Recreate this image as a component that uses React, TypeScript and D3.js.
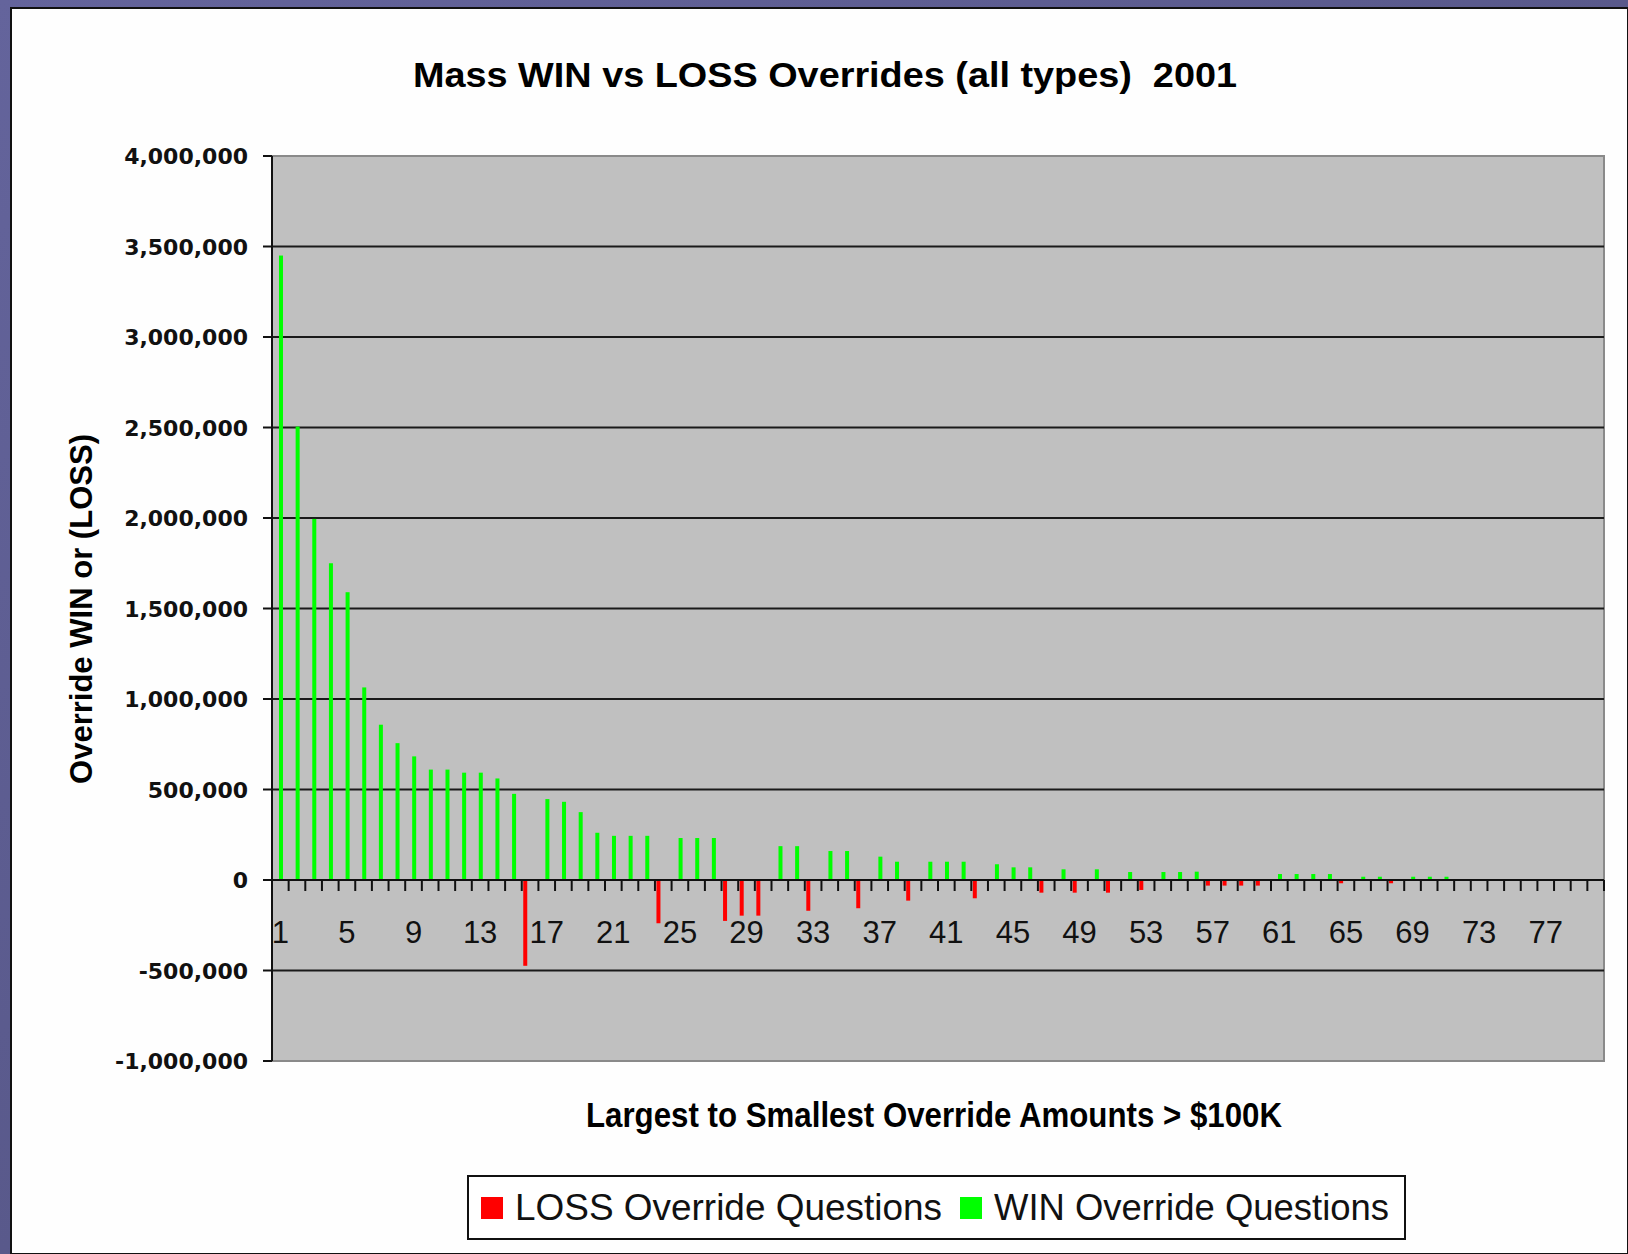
import React from "react";
import * as d3 from "d3";

// ---- data ----
const categories: string[] = Array.from({ length: 80 }, (_, i) => String(i + 1));

const winValues: number[] = [
  3450000, 2505000, 1995000, 1750000, 1590000, 1064000, 858000, 756000, 683000, 610000,
  610000, 593000, 593000, 561000, 476000, 0, 447000, 432000, 375000, 261000,
  244000, 244000, 244000, 0, 232000, 232000, 232000, 0, 0, 0,
  187000, 187000, 0, 160000, 160000, 0, 129000, 101000, 0, 101000,
  101000, 101000, 0, 87000, 70000, 70000, 0, 59000, 0, 59000,
  0, 44000, 0, 44000, 44000, 46000, 0, 0, 0, 0,
  33000, 33000, 33000, 33000, 0, 18000, 18000, 0, 18000, 18000,
  18000, 0, 0, 0, 0, 0, 0, 0, 0, 0,
];

const lossValues: number[] = [
  0, 0, 0, 0, 0, 0, 0, 0, 0, 0,
  0, 0, 0, 0, 0, -474000, 0, 0, 0, 0,
  0, 0, 0, -239000, 0, 0, 0, -226000, -197000, -197000,
  0, 0, -170000, 0, 0, -156000, 0, 0, -114000, 0,
  0, 0, -101000, 0, 0, 0, -70000, 0, -70000, 0,
  -70000, 0, -55000, 0, 0, 0, -31000, -31000, -31000, -31000,
  0, 0, 0, 0, -18000, 0, 0, -18000, 0, 0,
  0, 0, 0, 0, 0, 0, 0, 0, 0, 0,
];

const seriesNames: string[] = ["LOSS Override Questions", "WIN Override Questions"];
const seriesColors: string[] = ["#ff0000", "#00ff00"];
const yTickValues: number[] = [-1000000, -500000, 0, 500000, 1000000, 1500000, 2000000, 2500000, 3000000, 3500000, 4000000];
const xTickLabels: string[] = ["1", "5", "9", "13", "17", "21", "25", "29", "33", "37", "41", "45", "49", "53", "57", "61", "65", "69", "73", "77"];

const titleText = "Mass WIN vs LOSS Overrides (all types)  2001";
const yTitle = "Override WIN or (LOSS)";
const xTitle = "Largest to Smallest Override Amounts > $100K";

export default function App() {
  const W = 1628;
  const H = 1254;
  const left = 272, right = 1604, top = 156, bottom = 1061;

  const x = d3.scaleBand<string>().domain(categories).range([left, right]).padding(0);
  const bw = x.bandwidth();
  const x1 = d3.scaleBand<string>().domain(seriesNames).range([bw * 0.09, bw * 0.66]).paddingInner(0.27);
  const y = d3.scaleLinear().domain([-1000000, 4000000]).range([bottom, top]);
  const fmt = (v: number) => d3.format(",")(v).replace("\u2212", "-");
  const y0 = y(0);

  const bars: { key: string; x: number; y: number; w: number; h: number; c: string }[] = [];
  categories.forEach((c, i) => {
    const l = lossValues[i];
    const w = winValues[i];
    if (l) {
      bars.push({ key: "l" + c, x: (x(c) as number) + (x1(seriesNames[0]) as number), y: y0, w: x1.bandwidth(), h: y(l) - y0, c: seriesColors[0] });
    }
    if (w) {
      bars.push({ key: "w" + c, x: (x(c) as number) + (x1(seriesNames[1]) as number), y: y(w), w: x1.bandwidth(), h: y0 - y(w), c: seriesColors[1] });
    }
  });

  const boundaries = categories.map((c) => x(c) as number).concat([right]);

  return (
    <div style={{ position: "fixed", left: 0, top: 0, width: W, height: H }}>
      <svg width={W} height={H} style={{ display: "block" }}>
        <defs>
          <linearGradient id="bg" x1="0" y1="0" x2="1" y2="1">
            <stop offset="0" stopColor="#64649c" />
            <stop offset="1" stopColor="#4e4e7a" />
          </linearGradient>
        </defs>
        <rect x={0} y={0} width={W} height={H} fill="url(#bg)" />
        <rect x={11} y={8} width={W - 11} height={H - 8} fill="#fefefe" stroke="#111" strokeWidth={2} />

        <text x={825} y={87} textAnchor="middle" fontFamily="Liberation Sans, Arial, sans-serif" fontWeight="bold" fontSize={35} textLength={824} lengthAdjust="spacingAndGlyphs" style={{ whiteSpace: "pre" }}>{titleText}</text>

        {/* plot area */}
        <rect x={left} y={top} width={right - left} height={bottom - top} fill="#c0c0c0" stroke="#8a8a8a" strokeWidth={2} />
        {yTickValues.filter((v) => v > -1000000 && v < 4000000).map((v) => (
          <line key={"g" + v} x1={left} x2={right} y1={y(v)} y2={y(v)} stroke="#1a1a1a" strokeWidth={2} />
        ))}

        {bars.map((b) => (
          <rect key={b.key} x={b.x} y={b.y} width={b.w} height={Math.max(b.h, 1)} fill={b.c} />
        ))}

        {/* x ticks */}
        <line x1={left} x2={right} y1={y0} y2={y0} stroke="#111" strokeWidth={2} />
        {boundaries.map((bx, i) => (
          <line key={"xt" + i} x1={bx} x2={bx} y1={y0} y2={y0 + 11} stroke="#111" strokeWidth={2} />
        ))}
        {xTickLabels.map((t) => (
          <text key={"xl" + t} x={(x(t) as number) + bw / 2} y={943} textAnchor="middle" fontFamily="Liberation Sans, Arial, sans-serif" fontSize={31} fill="#111">{t}</text>
        ))}

        {/* y axis */}
        <line x1={left} x2={left} y1={top} y2={bottom} stroke="#111" strokeWidth={2} />
        {yTickValues.map((v) => (
          <g key={"yt" + v}>
            <line x1={263} x2={left} y1={y(v)} y2={y(v)} stroke="#111" strokeWidth={2} />
            <text x={248} y={y(v) + 8} textAnchor="end" fontFamily="DejaVu Sans, Verdana, sans-serif" fontWeight="bold" fontSize={22} fill="#111">{fmt(v)}</text>
          </g>
        ))}

        <text transform="translate(92,609) rotate(-90)" textAnchor="middle" fontFamily="Liberation Sans Narrow, Liberation Sans, Arial, sans-serif" fontWeight="bold" fontSize={31} textLength={350} lengthAdjust="spacingAndGlyphs">{yTitle}</text>
        <text x={934} y={1127} textAnchor="middle" fontFamily="Liberation Sans Narrow, Liberation Sans, Arial, sans-serif" fontWeight="bold" fontSize={35} textLength={696} lengthAdjust="spacingAndGlyphs">{xTitle}</text>

        {/* legend */}
        <rect x={468} y={1176} width={937} height={63} fill="#fff" stroke="#111" strokeWidth={2} />
        <rect x={481} y={1197} width={22} height={22} fill={seriesColors[0]} />
        <text x={515} y={1220} fontFamily="Liberation Sans, Arial, sans-serif" fontSize={37} textLength={427} lengthAdjust="spacingAndGlyphs" fill="#111">{seriesNames[0]}</text>
        <rect x={960} y={1197} width={22} height={22} fill={seriesColors[1]} />
        <text x={994} y={1220} fontFamily="Liberation Sans, Arial, sans-serif" fontSize={37} textLength={395} lengthAdjust="spacingAndGlyphs" fill="#111">{seriesNames[1]}</text>
      </svg>
    </div>
  );
}
